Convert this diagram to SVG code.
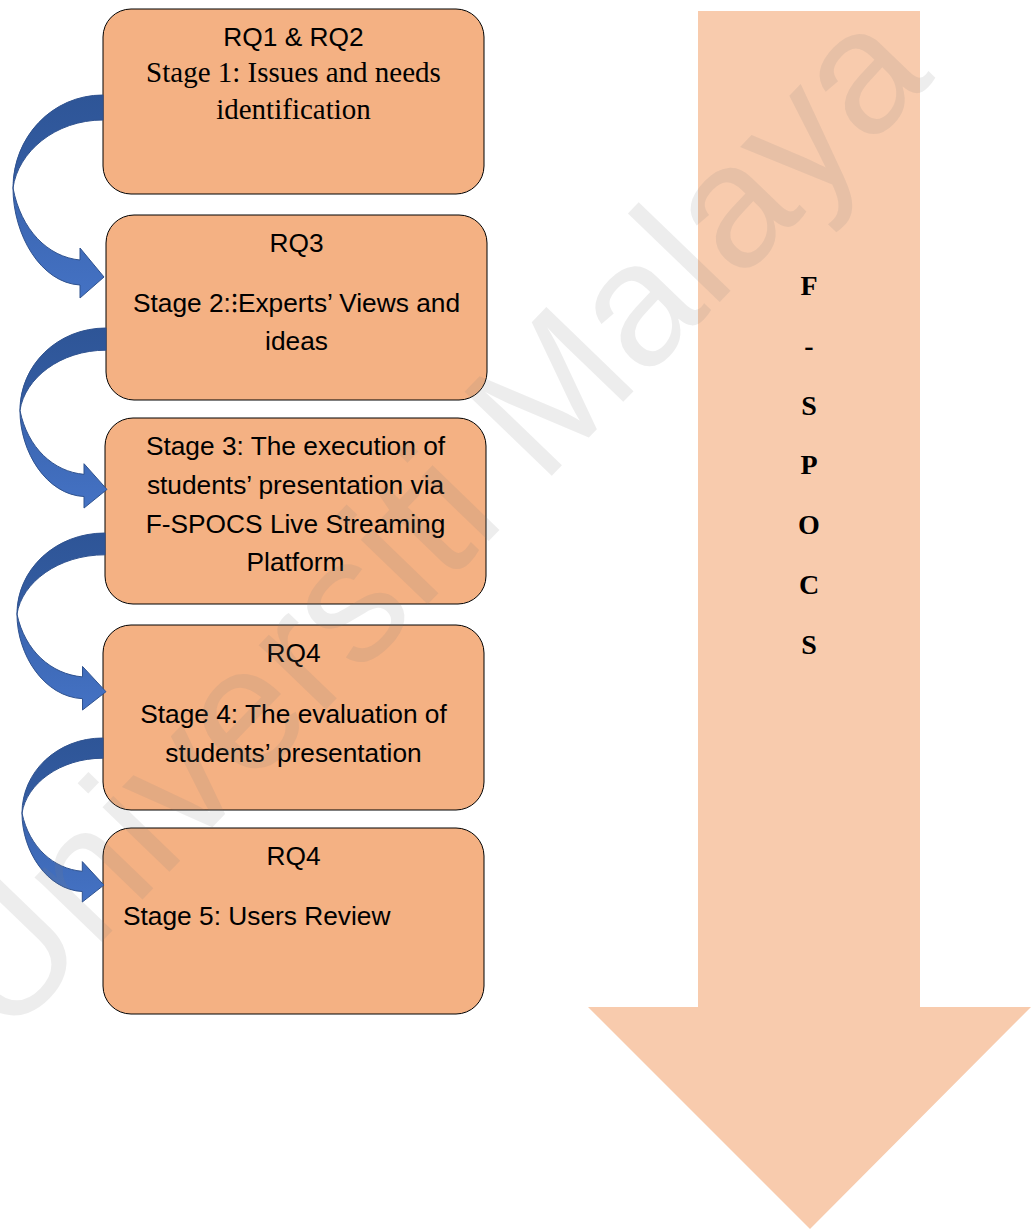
<svg xmlns="http://www.w3.org/2000/svg" xmlns:xlink="http://www.w3.org/1999/xlink" width="1034" height="1229" viewBox="0 0 1034 1229">
  <style>
    .stage { fill: #F4B183; stroke: #000; stroke-width: 1; }
    .sans { font-family: "Liberation Sans", Arial, sans-serif; font-size: 26.3px; fill: #000; text-anchor: middle; }
    .left { text-anchor: start; }
    .serif { font-family: "Liberation Serif", "Times New Roman", serif; font-size: 29px; fill: #000; text-anchor: middle; }
    .spine { font-family: "Liberation Serif", "Times New Roman", serif; font-size: 28px; font-weight: bold; fill: #000; text-anchor: middle; }
    .curl-back { fill: url(#curlBack); stroke: #2F528F; stroke-width: 1; }
    .curl-front { fill: url(#curlFront); stroke: #2F528F; stroke-width: 1; }
    .wm { font-family: "Liberation Sans", Arial, sans-serif; font-size: 176px; fill: #808080; fill-opacity: 0.14; }
  </style>
  <defs>
    <linearGradient id="curlBack" x1="0" y1="0" x2="0" y2="1">
      <stop offset="0" stop-color="#2E5597"/>
      <stop offset="1" stop-color="#345DA3"/>
    </linearGradient>
    <linearGradient id="curlFront" x1="0" y1="0" x2="0" y2="1">
      <stop offset="0" stop-color="#3A64AE"/>
      <stop offset="1" stop-color="#4472C4"/>
    </linearGradient>
    <!-- curved right arrow, drawn with its top-right corner at the origin -->
    <g id="curl">
      <path class="curl-back" vector-effect="non-scaling-stroke" d="M0,0 C-51,0 -90,42 -90,93 C-85,57 -48,25 0,25 Z"/>
      <path class="curl-front" vector-effect="non-scaling-stroke" d="M-90,93 C-90,140 -62,188 -23,190 L-23,203 L1,182 L-23,153 L-23,165 C-55,162 -82,135 -90,93 Z"/>
    </g>
  </defs>

  <rect width="1034" height="1229" fill="#fff"/>

  <!-- F-SPOCS block arrow -->
  <g id="fspocs">
    <polygon points="698,11 920,11 920,1007 1031,1007 810,1229 588,1007 698,1007" fill="#F8CBAD"/>
    <text class="spine" x="809" y="295">F</text>
    <text class="spine" x="809" y="355">-</text>
    <text class="spine" x="809" y="415">S</text>
    <text class="spine" x="809" y="474">P</text>
    <text class="spine" x="809" y="534">O</text>
    <text class="spine" x="809" y="594">C</text>
    <text class="spine" x="809" y="654">S</text>
  </g>

  <!-- stage boxes -->
  <g id="stage1">
    <rect class="stage" x="103" y="9" width="381" height="185" rx="28"/>
    <text class="sans" x="293.5" y="46">RQ1 &amp; RQ2</text>
    <text class="serif" x="293.5" y="82">Stage 1: Issues and needs</text>
    <text class="serif" x="293.5" y="119">identification</text>
  </g>
  <g id="stage2">
    <rect class="stage" x="106" y="215" width="381" height="185" rx="28"/>
    <text class="sans" x="296.5" y="252">RQ3</text>
    <text class="sans" x="296.5" y="312">Stage 2:⁝Experts’ Views and</text>
    <text class="sans" x="296.5" y="350">ideas</text>
  </g>
  <g id="stage3">
    <rect class="stage" x="105" y="418" width="381" height="186" rx="28"/>
    <text class="sans" x="295.5" y="455">Stage 3: The execution of</text>
    <text class="sans" x="295.5" y="494">students’ presentation via</text>
    <text class="sans" x="295.5" y="533">F-SPOCS Live Streaming</text>
    <text class="sans" x="295.5" y="571">Platform</text>
  </g>
  <g id="stage4">
    <rect class="stage" x="103" y="625" width="381" height="185" rx="28"/>
    <text class="sans" x="293.5" y="662">RQ4</text>
    <text class="sans" x="293.5" y="723">Stage 4: The evaluation of</text>
    <text class="sans" x="293.5" y="762">students’ presentation</text>
  </g>
  <g id="stage5">
    <rect class="stage" x="103" y="828" width="381" height="186" rx="28"/>
    <text class="sans" x="293.5" y="865">RQ4</text>
    <text class="sans left" x="123" y="925">Stage 5: Users Review</text>
  </g>

  <!-- connectors between stages -->
  <g id="connectors">
    <use xlink:href="#curl" transform="translate(103,95)"/>
    <use xlink:href="#curl" transform="translate(106,328) scale(0.956,0.887)"/>
    <use xlink:href="#curl" transform="translate(105,533) scale(0.978,0.872)"/>
    <use xlink:href="#curl" transform="translate(103,738) scale(0.9,0.808)"/>
  </g>

  <!-- watermark -->
  <text class="wm" transform="translate(5,1042) rotate(-46)">Universiti Malaya</text>
</svg>
